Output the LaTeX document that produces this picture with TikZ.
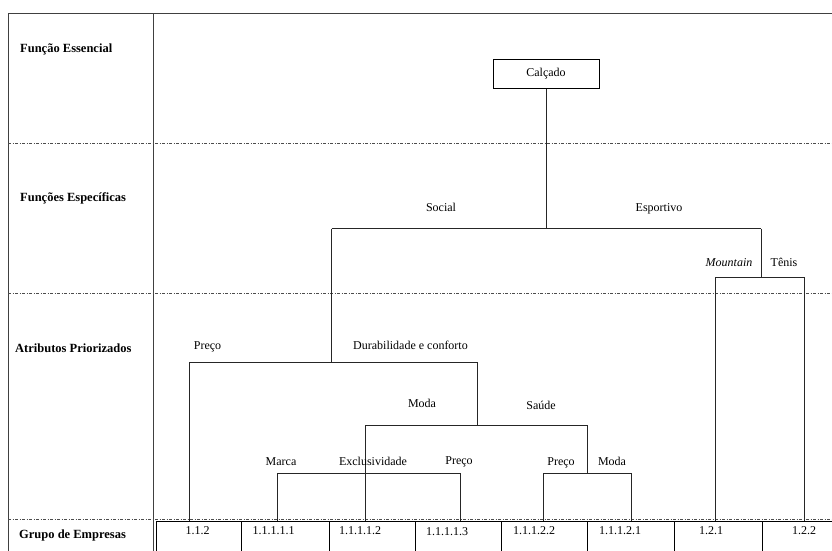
\documentclass[tikz,border=0pt]{standalone}
\usepackage{fontspec}
\setmainfont{Liberation Serif}
\begin{document}
\begin{tikzpicture}[x=1pt,y=-1pt,
  txt/.style={inner sep=0pt, font=\fontsize{12}{14}\selectfont, text height=8pt, text depth=2.5pt},
  hdr/.style={inner sep=0pt, anchor=west, font=\bfseries\fontsize{12.5}{14}\selectfont, text height=8pt, text depth=2.5pt},
  tree/.style={line width=0.9pt, black!85},
  sepline/.style={line width=0.8pt, black!70, dash pattern=on 3pt off 1.5pt on 1pt off 1.5pt},
  frame/.style={line width=1pt, black!75},
  cell/.style={draw, line width=1.4pt, anchor=north west, minimum height=35pt, inner sep=0pt},
  rootbox/.style={draw, line width=1pt, minimum width=106pt, minimum height=29pt, inner sep=0pt, font=\fontsize{12}{14}\selectfont}
]
\useasboundingbox (0,0) rectangle (832,550);
\clip (0,0) rectangle (832,550);

% frame
\draw[frame] (8,556) -- (8,13) -- (836,13);
\draw[frame] (153,13) -- (153,556);

% separators
\draw[sepline] (8,143) -- (832,143);
\draw[sepline] (8,293) -- (832,293);
\draw[sepline] (8,519.5) -- (832,519.5);

% row headers
\node[hdr] (h1) at (20,50) {Função Essencial};
\node[hdr] (h2) at (20,199) {Funções Específicas};
\node[hdr] (h3) at (15,350) {Atributos Priorizados};
\node[hdr] (h4) at (19,536) {Grupo de Empresas};

% bottom cells
\node[cell, minimum width=85.5pt] (b1) at (155.5,521) {};
\node[cell, minimum width=88pt] (b2) at (241,521) {};
\node[cell, minimum width=86pt] (b3) at (329,521) {};
\node[cell, minimum width=86pt] (b4) at (415,521) {};
\node[cell, minimum width=86pt] (b5) at (501,521) {};
\node[cell, minimum width=87pt] (b6) at (587,521) {};
\node[cell, minimum width=88pt] (b7) at (674,521) {};
\node[cell, minimum width=88pt] (b8) at (762,521) {};

\node[txt] (t1) at (197.5,532) {1.1.2};
\node[txt] (t2) at (273.5,532) {1.1.1.1.1};
\node[txt] (t3) at (360,532) {1.1.1.1.2};
\node[txt] (t4) at (447,533) {1.1.1.1.3};
\node[txt] (t5) at (534,532) {1.1.1.2.2};
\node[txt] (t6) at (620,532) {1.1.1.2.1};
\node[txt] (t7) at (711,532) {1.2.1};
\node[txt] (t8) at (804,532) {1.2.2};

% root
\node[rootbox] (calc) at (546,73.5) {Calçado};

% junction coordinates
\coordinate (jTop) at (546,228.5);
\coordinate (jS) at (331.5,228.5);
\coordinate (jE) at (761,228.5);
\coordinate (jE2) at (761,277);
\coordinate (jMt) at (715,277);
\coordinate (jTn) at (804,277);
\coordinate (jS2) at (331.5,362);
\coordinate (jPr) at (189,362);
\coordinate (jDc) at (477,362);
\coordinate (jDc2) at (477,425);
\coordinate (jMo) at (365.5,425);
\coordinate (jSa) at (587.5,425);
\coordinate (jSa2) at (587.5,473);
\coordinate (jPr2) at (543.5,473);
\coordinate (jMo2) at (631,473);
\coordinate (jMa) at (277,473);
\coordinate (jPc) at (460,473);

% tree connectors
\draw[tree] (calc.south) -- (jTop);
\draw[tree] (jS) -- (jE);
\draw[tree] (jE) -- (jE2);
\draw[tree] (jMt) -- (jTn);
\draw[tree] (jMt) -- (jMt |- b7.north);
\draw[tree] (jTn) -- (jTn |- b8.north);
\draw[tree] (jS) -- (jS2);
\draw[tree] (jPr) -- (jDc);
\draw[tree] (jPr) -- (jPr |- b1.north);
\draw[tree] (jDc) -- (jDc2);
\draw[tree] (jMo) -- (jSa);
\draw[tree] (jMo) -- (jMo |- b3.north);
\draw[tree] (jSa) -- (jSa2);
\draw[tree] (jPr2) -- (jMo2);
\draw[tree] (jPr2) -- (jPr2 |- b5.north);
\draw[tree] (jMo2) -- (jMo2 |- b6.north);
\draw[tree] (jMa) -- (jPc);
\draw[tree] (jMa) -- (jMa |- b2.north);
\draw[tree] (jPc) -- (jPc |- b4.north);

% branch labels
\node[txt] (lSoc) at (441,209) {Social};
\node[txt] (lEsp) at (659,209) {Esportivo};
\node[txt] (lMt) at (729,264) {\itshape Mountain};
\node[txt] (lTn) at (784,264) {Tênis};
\node[txt] (lPr) at (207.5,347) {Preço};
\node[txt] (lDc) at (410.5,347) {Durabilidade e conforto};
\node[txt] (lMo) at (422,405) {Moda};
\node[txt] (lSa) at (541,407) {Saúde};
\node[txt] (lMa) at (281,463) {Marca};
\node[txt] (lEx) at (373,463) {Exclusividade};
\node[txt] (lPc) at (459,462) {Preço};
\node[txt] (lPr3) at (561,463) {Preço};
\node[txt] (lMo3) at (612,463) {Moda};
\end{tikzpicture}
\end{document}
